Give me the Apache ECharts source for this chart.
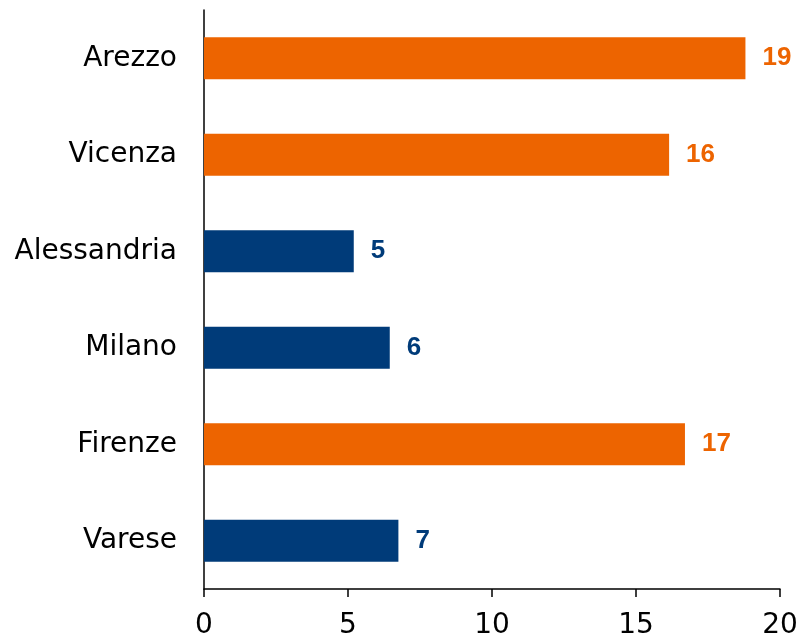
<!DOCTYPE html>
<html>
<head>
<meta charset="utf-8">
<script src="https://cdn.jsdelivr.net/npm/echarts@6/dist/echarts.min.js"></script>
<style>
  html, body { margin: 0; padding: 0; background: #fff; }
  #chart { width: 802px; height: 640px; }
</style>
</head>
<body>
<div id="chart"></div>
<script>
const categories = ['Arezzo', 'Vicenza', 'Alessandria', 'Milano', 'Firenze', 'Varese']
const values = [18.8, 16.15, 5.2, 6.45, 16.7, 6.75]
const highlighted = ['Arezzo', 'Vicenza', 'Firenze']
const xTicks = [0, 5, 10, 15, 20]

const ORANGE = '#ED6400'
const NAVY = '#003B79'

const chart = echarts.init(document.getElementById('chart'))
const option = {
  animation: false,
  grid: { left: 204, right: 22, top: 10, bottom: 50 },
  xAxis: {
    type: 'value',
    min: xTicks[0],
    max: xTicks[xTicks.length - 1],
    interval: 5,
    axisLine: { show: true, lineStyle: { color: '#000', width: 1.5 } },
    axisTick: { show: true, length: 8, lineStyle: { color: '#000', width: 1.5 } },
    axisLabel: { color: '#000', fontSize: 28, fontFamily: 'DejaVu Sans', margin: 23 },
    splitLine: { show: false }
  },
  yAxis: {
    type: 'category',
    inverse: true,
    data: categories,
    axisLine: { show: true, lineStyle: { color: '#000', width: 1.5 } },
    axisTick: { show: false },
    axisLabel: { color: '#000', fontSize: 28, fontFamily: 'DejaVu Sans', margin: 27 }
  },
  series: [
    {
      type: 'bar',
      barWidth: 42,
      data: values.map((v, i) => {
        const c = highlighted.includes(categories[i]) ? ORANGE : NAVY
        return {
          value: v,
          itemStyle: { color: c },
          label: { color: c }
        }
      }),
      label: {
        show: true,
        position: 'right',
        distance: 17,
        fontSize: 26,
        fontWeight: 'bold',
        fontFamily: 'Liberation Sans',
        formatter: p => Math.round(p.value)
      }
    }
  ]
}
chart.setOption(option)
</script>
</body>
</html>
